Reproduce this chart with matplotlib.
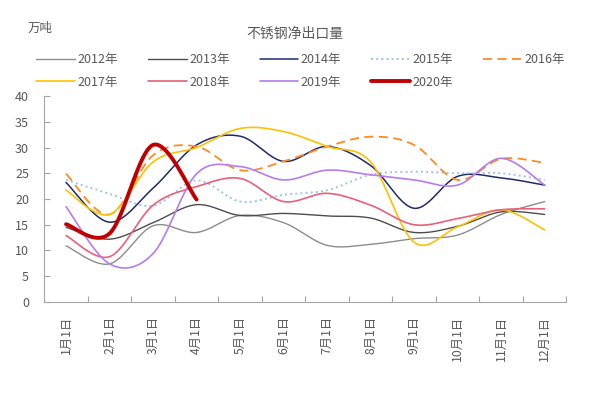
import matplotlib
matplotlib.use("Agg")
import matplotlib.pyplot as plt
import numpy as np

plt.rcParams['font.family'] = ['Noto Sans CJK SC', 'DejaVu Sans']

# data (万吨)
months = ['1月1日', '2月1日', '3月1日', '4月1日', '5月1日', '6月1日',
          '7月1日', '8月1日', '9月1日', '10月1日', '11月1日', '12月1日']
y2012 = [10.9, 7.4, 14.8, 13.5, 16.8, 15.4, 11.0, 11.2, 12.3, 13.0, 17.0, 19.5]
y2013 = [14.5, 12.2, 15.4, 18.9, 16.8, 17.2, 16.7, 16.3, 13.5, 14.7, 17.5, 17.0]
y2014 = [23.2, 15.5, 22.1, 30.5, 32.2, 27.3, 30.2, 26.5, 18.2, 24.4, 24.1, 22.7]
y2015 = [23.7, 21.0, 18.7, 23.6, 19.5, 20.8, 21.7, 24.7, 25.3, 25.0, 25.0, 23.7]
y2016 = [24.9, 17.0, 28.5, 30.2, 25.6, 27.3, 30.2, 32.1, 30.5, 23.7, 27.8, 27.0]
y2017 = [21.7, 17.0, 27.2, 30.0, 33.7, 33.1, 30.2, 27.2, 11.6, 14.6, 17.9, 14.0]
y2018 = [12.9, 8.8, 18.8, 22.4, 24.0, 19.5, 21.1, 18.8, 15.0, 16.2, 17.9, 18.1]
y2019 = [18.5, 7.4, 9.4, 24.9, 26.3, 23.7, 25.6, 24.7, 23.7, 22.7, 27.9, 22.7]
y2020 = [15.1, 13.3, 30.5, 19.9]

series = [
    ('2012年', y2012, '#8c8c8c', '-', 1.0),
    ('2013年', y2013, '#4d4d4d', '-', 1.0),
    ('2014年', y2014, '#1f2a6b', '-', 1.1),
    ('2015年', y2015, '#9dc3e6', ':', 1.4),
    ('2016年', y2016, '#ff8a1f', (0, (5, 3)), 1.3),
    ('2017年', y2017, '#ffc000', '-', 1.2),
    ('2018年', y2018, '#e8607a', '-', 1.2),
    ('2019年', y2019, '#b57cf0', '-', 1.2),
    ('2020年', y2020, '#c00000', '-', 2.8),
]


def smooth(vals, n=30):
    # excel-like smoothed line (catmull-rom as bezier)
    p = np.column_stack([np.arange(len(vals)), vals]).astype(float)
    pts = []
    for i in range(len(p) - 1):
        p0 = p[max(i - 1, 0)]
        p1 = p[i]
        p2 = p[i + 1]
        p3 = p[min(i + 2, len(p) - 1)]
        c1 = p1 + (p2 - p0) / 6
        c2 = p2 - (p3 - p1) / 6
        t = np.linspace(0, 1, n)[:, None]
        seg = (1 - t) ** 3 * p1 + 3 * (1 - t) ** 2 * t * c1 + 3 * (1 - t) * t ** 2 * c2 + t ** 3 * p2
        pts.append(seg if i == 0 else seg[1:])
    pts = np.vstack(pts)
    return pts[:, 0], pts[:, 1]


fig = plt.figure(figsize=(5.92, 3.93), dpi=100)
ax = fig.add_axes([0.0748, 0.2316, 0.882, 0.5241])

handles = {}
for name, vals, col, ls, lw in series:
    xs, ys = smooth(vals)
    h, = ax.plot(xs, ys, color=col, linestyle=ls, linewidth=lw, label=name,
                 solid_capstyle='round')
    handles[name] = h

ax.set_xlim(-0.5, 11.5)
ax.set_ylim(0, 40)
ax.set_yticks(np.arange(0, 41, 5))
ax.set_xticks(np.arange(-0.5, 12, 1))
ax.set_xticklabels([])
ax.set_xticks(np.arange(12), minor=True)
ax.set_xticklabels(months, minor=True, rotation=90)
ax.tick_params(axis='x', which='major', direction='in', length=4, color='#a6a6a6')
ax.tick_params(axis='x', which='minor', length=0, pad=10, labelsize=8.8, labelcolor='#595959')
ax.tick_params(axis='y', direction='in', length=4, color='#a6a6a6', labelsize=9,
               labelcolor='#595959', pad=11)
for s in ['top', 'right']:
    ax.spines[s].set_visible(False)
for s in ['left', 'bottom']:
    ax.spines[s].set_color('#a6a6a6')

fig.text(0.498, 0.914, '不锈钢净出口量', ha='center', va='center', fontsize=10, color='#595959')
fig.text(0.068, 0.927, '万吨', ha='center', va='center', fontsize=9, color='#595959')

order = ['2012年', '2017年', '2013年', '2018年', '2014年', '2019年', '2015年', '2020年', '2016年']
fig.legend([handles[k] for k in order], order, ncol=5, loc='upper left',
           bbox_to_anchor=(0.042, 0.893), frameon=False, fontsize=9,
           labelcolor='#595959', handlelength=3.1, handletextpad=0.2,
           columnspacing=2.4, labelspacing=0.75)

fig.savefig('out.png', dpi=100)
